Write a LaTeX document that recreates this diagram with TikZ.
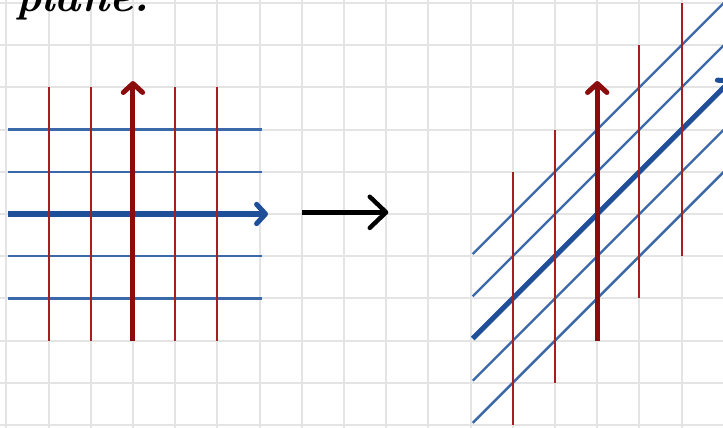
\documentclass[tikz,border=0pt]{standalone}
\usepackage{tikz}
\usetikzlibrary{arrows.meta}
\definecolor{gridGray}{HTML}{E4E4E4}
\definecolor{redLine}{HTML}{A51F1F}
\definecolor{redAxis}{HTML}{8A0C0C}
\definecolor{blueLine}{HTML}{3B68A8}
\definecolor{blueAxis}{HTML}{1F4F98}

\begin{document}
\begin{tikzpicture}[
  paper/.style={draw=gridGray,line width=1.3pt},
  vline/.style={draw=redLine,line width=1.35pt},
  hline/.style={draw=blueLine,line width=1.6pt},
  vaxis/.style={draw=redAxis,line width=3.4pt,-{Straight Barb[round,length=6pt,width=13pt]}},
  haxis/.style={draw=blueAxis,line width=3.4pt,-{Straight Barb[round,length=6pt,width=13pt]}},
  maparrow/.style={draw=black,line width=3pt,-{Straight Barb[round,length=11pt,width=21pt]}},
  handtext/.style={font=\fontsize{30}{30}\selectfont\bfseries\itshape,inner sep=0pt}
]
\path[use as bounding box,clip] (-3.15,-5.05) rectangle (13.98,5.07);
\fill[white] (-3.15,-5.05) rectangle (13.98,5.07);
% squared paper
\foreach \x in {-3,...,13} \draw[paper] (\x,-5.2) -- (\x,5.2);
\foreach \y in {-5,...,5} \draw[paper] (-3.2,\y) -- (14,\y);

\node[handtext,anchor=base west] (title) at (-2.8,4.8) {plane.};

% plane before (left) and after the shear (right)
\foreach \ox/\sh in {0/0,11/1}{
  \begin{scope}[cm={1,\sh,0,1,(\ox,0)}]
    \foreach \k in {-2,-1,1,2} \draw[hline] (-2.95,\k) -- (3.05,\k);
    \draw[haxis] (-2.95,0) -- (3.2,0);
    \foreach \k in {-2,-1,1,2} \draw[vline] (\k,-3) -- (\k,3);
    \draw[vaxis] (0,-3) -- (0,3.15);
  \end{scope}
}

\coordinate (mapA) at (4,0.04);
\coordinate (mapB) at (6.05,0.04);
\draw[maparrow] (mapA) -- (mapB);
\end{tikzpicture}
\end{document}
